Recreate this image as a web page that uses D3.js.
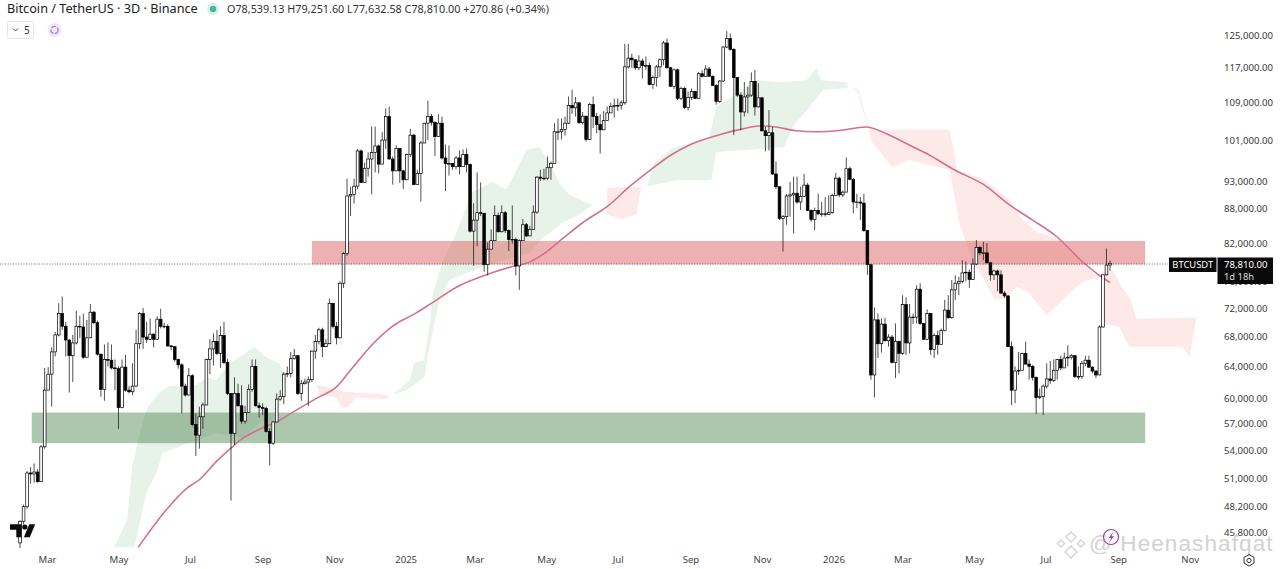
<!DOCTYPE html>
<html>
<head>
<meta charset="utf-8">
<script src="https://cdn.jsdelivr.net/npm/d3@7/dist/d3.min.js"></script>
<style>
html,body{margin:0;padding:0;background:#fff;overflow:hidden}
svg{display:block}
text{font-family:"Noto Sans","Open Sans",sans-serif}
</style>
</head>
<body>
<svg id="c" width="1280" height="569"></svg>
<script>
// ---------- values (thousand USDT) ----------
const firstOpen = 44.8;
const closes = [
46.8,48.2,51.6,51.5,51.7,50.7,54.4,61,63,65.9,68.2,71.2,69.4,67.5,65.4,67.1,69.4,69.3,65.2,67.8,
71.4,69.9,65.6,61.1,64.9,64.8,63.8,63.7,58.9,63.9,61,60.8,61.5,67,71.2,67.9,67.6,68.3,67.6,70.4,
69.4,69.4,66.7,66.6,64.9,64.2,61.5,60.4,62.8,56.9,55.7,57.8,59.2,64.9,66.3,67.3,65.7,68.1,64.5,60.6,
55.9,60.6,59.1,57.3,58.3,61.1,64,59.1,58.9,58.8,56.1,54.8,57.2,59.9,60.2,63,63.1,65,65.4,60.6,
61.8,62,62.3,66,67.3,68.9,66.6,67,72.7,69.4,67.8,75.7,
80.4,90.3,90.6,92.1,98.9,92.8,95.5,97.3,98.6,99.9,96.3,101.1,106,97.3,95,99.4,95,93.3,98.2,102.1,
92.4,94.5,100.5,104.6,106,104.8,101.8,104.6,97.5,96.4,96.4,95.8,97.5,95.8,98.2,96.2,84.1,86,87.3,87.2,
78.6,81.1,82.5,86.8,84,87.3,84.2,82.7,82.7,78.4,82.5,85.2,83.3,84.4,87.4,93.8,93.6,93.6,95.6,96.4,
102.8,102.8,103.3,104.6,108.4,107.9,109,104.7,106.1,101.2,108.6,106,104.3,103.2,105.2,106.8,108.2,108.4,108.4,109,117.2,
119.3,118.9,117,118.6,117.5,117.5,113.1,114.7,117.2,118.9,123,117,112.7,116.5,110,112.2,108,110.2,111.5,110,
115.6,115,116.7,115,112.9,109.3,113.9,122,124.1,121.4,114.7,110.7,107,110.3,110.7,113.8,108.1,110.1,103,102,
102.6,94.4,92,86.3,86.6,90.3,90.5,90.8,89.2,90.2,92.3,87.7,86.1,87.7,87.1,87.1,87,87.3,90.4,93.6,
90.5,91,95.4,93.4,89.2,89.2,89,84.2,78.6,
62.9,70.3,67,69.7,67.4,67.9,64.5,67.3,65.7,72.5,67.1,70.7,70.7,74.8,69.8,67.6,71.2,66.2,68.1,66.9,
68.8,71.7,70.6,74.7,75.7,76,77.3,77.4,76.3,78.7,81.4,80.5,80.5,78.9,77,77.6,77,74.2,73.8,66.6,
61,63.4,63.5,65.7,64.3,64,62.6,60.1,60.2,61.5,62.4,62.2,63.5,64.9,63.8,65.1,65.2,65.4,62.7,62.7,
64.4,64.8,63.9,63.4,62.9,69.3,77,78.54,78.81];
const highs = [
46.9,48.4,51.8,52.2,52.6,52,54.6,63.8,63.9,66.5,68.6,72.7,73.7,70,67.6,68.2,71.6,70.9,71.2,70.3,
72.6,71.6,70.2,65.6,66.9,67.2,66.9,64.9,64,64.9,65.5,61.5,64.4,68.9,71.4,72,70,70.5,68.4,70.8,
71.9,69.9,69.7,66.8,66.6,65,64.4,61.8,63.8,63,58.2,59,59.5,65,67.6,68.4,68.9,69.4,70,65,
60.6,62.6,61.8,61.6,59.1,61.7,64.9,64.9,59.5,59.4,59,56.5,57.3,60.6,61,63.3,64,65.9,66.3,65.4,
62.3,62.4,62.7,66.1,68.2,69.2,69.2,67.6,73.4,72.7,70,76,
80.6,93.5,92,93.5,99.3,99.2,96.6,98.6,103.9,103.9,100.2,102.8,107.8,108.2,97.8,100,99.4,95.2,98.4,103.4,
102.4,95.2,100.9,104.6,109.5,106.6,105,106.5,106,100.2,100,96.5,97.9,99,99.2,99.4,96.4,89,94.7,92.8,
87,82.2,84.4,88.6,87.3,88.6,87.6,84.4,88.6,83,82.7,86.2,85.5,85,88.6,94,95.2,95.4,97.8,96.8,
104.6,105.6,105.6,106,110.4,111.9,110.3,109.2,107,106.1,109,110.4,106.8,106.5,107.2,108.2,109,109.9,109.9,109.5,122.8,
122.8,120.4,118.3,120,119.2,119.7,118.2,115.2,117.6,119.2,123.5,124.1,117.2,116.8,116.8,112.6,112.6,111.5,112.2,111.5,
116,116.4,117.6,117.2,115.2,113.2,114.1,122.2,126,125.4,121.7,114.8,111.3,113.7,112.6,115.9,116.5,113.4,110.3,103.8,
107.4,103.8,96.8,92,86.9,90.7,92.9,93.9,93.9,92,94.4,92.7,87.9,88.2,90.7,89.2,90.1,90.4,90.7,94.6,
93.9,91.3,97.6,95.8,93.6,90.7,90.1,90.7,84.2,
78.5,72.1,71.2,70.5,70.6,68.3,68.2,69.8,67.4,73.9,73.6,72.6,71.2,75.4,75.7,69.8,71.8,71.2,68.4,68.8,
69.1,73.2,73.9,76.2,76.9,76.7,79.3,79.1,77.8,79.6,82.6,81.6,82.3,82.1,78.9,77.8,77.8,77.7,74.5,73.8,
67.3,64,65.9,65.8,67.3,64.9,64.2,62.7,61.2,61.7,64.4,64.7,64.9,65,65.4,65.8,66.8,65.6,65.4,64,
64.7,65.4,65.4,64,63.5,69.5,77,81.2,79.25];
const lows = [
44.3,46.5,48,50.5,50.6,50.6,50.7,54.2,61,59,65.3,68,68.9,65.3,60.7,62,66.9,67.8,65,65.2,
67.8,69.7,65.4,60.2,59.7,64,63.6,61,56.4,58.8,60.8,60.6,60.4,61.4,66.3,66.3,67.1,67.5,66.5,67.5,
69.1,69.1,66.6,66.1,64.6,63.7,58.2,60.2,60.4,56.7,53.4,54.2,56.4,59.2,63,64.1,65.5,63.8,64.3,60.4,
48.8,54.6,59,57,57,58.3,60.8,59,57.7,58,56,52.4,54.6,57.3,59.7,59.3,62.6,62.6,64.9,60.4,
59.7,61.7,59.1,62,65,66.9,65.2,66.5,66.9,69.1,66.9,67.7,
75,80,86.7,88.9,91.5,92.7,92.8,93.9,90.6,94.7,94.5,96.4,99.3,97.2,92.4,95,92.7,91.6,93.3,97.7,
92.3,92.4,89.3,100.5,101.1,104.1,97.9,101.8,97.2,91.2,94.1,95.2,95.3,94.3,95.8,94.7,83.9,78.4,81.6,86.7,
77.5,76.9,81.1,82.9,83.9,83.9,83.8,80.8,82,76.9,74.7,82.5,83.1,83.3,84.4,87.1,93.1,93.2,93.3,93.3,
96.4,101.1,101.2,102,104.4,106.6,106,104.5,104.3,100.8,101.1,103.6,102.5,98.4,103.2,105.2,106.8,105.8,107.2,107.5,108.6,
116.8,117,116.5,116.4,114.5,116.5,112.9,112.1,112.6,114.8,117.6,116.8,112.6,112.1,109.6,109.6,107.6,107.3,109.6,109.8,
111.1,114.7,114.8,114.8,112.8,108.6,109,113.7,121.7,121.1,102.1,110.3,103.1,106,106.7,110.3,106.2,108,102.9,98.8,
99,94.2,91.6,86,80.7,85.2,86.6,83.7,88.9,87.8,90.1,87.6,85.7,84.3,86.9,86.6,86.6,86.9,87.1,90.4,
90.1,90.1,91,93.2,87.2,88.1,86,84,77,
62.3,60.1,65.1,65.8,67.3,66.6,64.4,62.5,63.1,65.5,65.5,65.7,69.7,69.8,69.6,67.5,67.5,65.5,65.1,65.5,
67.7,68.7,70.5,70.5,73.2,73.9,75.7,76,75,76.2,78.5,80.1,79.3,78.8,76.1,76.2,74.5,74.2,73.5,66.6,
59.2,59.4,62.9,63.5,64.2,62.3,62.2,58.1,59.9,58,61.2,61.8,62,62.3,63.5,64,64,64.9,62.5,62.3,
62.4,64,63.8,63.1,62.5,62.9,69.2,76.9,77.63];

const lastBarDate = "2026-08-25";
const priceTicks = [125,117,109,101,93,88,82,76,72,68,64,60,57,54,51,48.2,45.8];
const monthDates = ["2024-03-01","2024-05-01","2024-07-01","2024-09-01","2024-11-01","2025-01-01","2025-03-01","2025-05-01","2025-07-01","2025-09-01","2025-11-01","2026-01-01","2026-03-01","2026-05-01","2026-07-01","2026-09-01","2026-11-01"];
const monthLabels = ["Mar","May","Jul","Sep","Nov","2025","Mar","May","Jul","Sep","Nov","2026","Mar","May","Jul","Sep","Nov"];

// moving average: bar number / price
const maBars = [33.6,41.6,47.3,51,55.8,59.5,63.2,68.9,72.9,79.4,84.3,90,94.5,100.2,105.9,112.7,117.3,124.1,132.6,140,144.9,148.6,154.2,159.9,167.6,173.3,179,184.7,190.4,198,205.5,210.3,215,220.8,226.5,232.2,240.7,246.4,252.9,258.6,265.7,274.3,281.4,288,294.8,302.1,307.5,310];
const maVals = [44.4,47.9,50,50.9,52.8,54.1,55.3,56.5,57.2,58.8,60,61.4,63.8,66.9,69.4,71.3,72.8,75.1,77,78.3,79,80.2,82.8,85.5,88.7,92,95,97.9,100.1,102,103.4,104,103.8,103,102.8,103,103.8,102.4,100.1,98.1,95.2,92.3,88.7,86,83.2,79.1,76.7,75.8];

// cloud outlines: bar number / price
const greenABars = [26.8,30.5,31.9,34.8,36.2,39.6,42.5,50.1,53,55.8,59.5,62.4,66.6,70.1,73.8,75.7,73.2,73.2,68.9,63.2,55.8,47.3,40.5,38.8,35.9,33.1,32.5];
const greenAVals = [44.4,47,52.3,57.1,58.9,60.7,61.5,61.6,62.6,62.2,64.4,65.2,66.6,65.2,64.4,62.2,58.1,57.3,57.3,55.4,55.9,54.7,53.7,51.6,49.6,45.2,44.4];
const greenBBars = [105.9,110.7,112.1,114.9,116.7,117.3,120.1,123.5,125.8,128.6,134.3,138.3,141.2,144,147.7,150.5,153.4,156.2,162.8,159.9,154.2,148.6,144.9,135.5,129.8,122.1,119.3,118.4,115.9,115,109.9];
const greenBVals = [60.4,62.2,64.4,64.8,70.3,73.9,79,82.9,86.5,91,92.9,91.5,95.2,99.1,99.7,96.7,92.7,90.5,88.7,87.3,85.5,82.9,80.5,79,77.9,76.2,73.2,71.2,65.2,62.6,61];
const greenCBars = [178.4,180.4,185.5,190.4,196,198,209.4,216.8,223.6,226.5,227.9,235.3,235.3,228.2,224.5,219.7,217.4,206.6,198,196.6,186.7];
const greenCVals = [92.1,96.5,99.5,100.5,101.7,108,114.1,113.6,114.1,116.9,114.1,113.6,112.3,111.8,108,103.8,99.7,99.1,98.7,93.2,93.2];
const redABars = [84.4,92.2,105,104.2,95.6,93.1,91.4,90,85.1];
const redAVals = [61.7,60.8,60.4,59.9,60.1,58.9,58.9,60.1,60.4];
const redBBars = [167,176.7,175.3,171,166.8];
const redBVals = [91.8,92,87,86.2,87];
const redCBars = [236.7,238.4,241.6,264.4,266.6,274.3,281.4,285.1,289.1,295.6,302.7,305.6,310.7,313.2,316,317.5,334.6,332.6,330.6,315.5,312.6,308.4,308.4,307,302.2,298.5,294.7,291.9,287,283.4,280.5,277.1,273.7,271.4,267.2,264.4,258.7,253,248.1,242.4,241,238.1];
const redCVals = [112.3,112.1,103.2,103.2,95.2,93.2,89.6,86.1,84,82.7,78.6,77,77.8,75.2,73.2,70.5,70.6,65.2,66.6,66.6,69.3,69.8,75.8,76.7,75.9,74.2,72.2,71,74.2,75.2,73.3,73.3,76.7,78.6,85.2,95.2,96.1,97.1,95.7,100.5,104.2,111.5];

// zones
const redZone = {from:"2024-10-13", to:"2026-09-24", top:82.45, bottom:78.65};
const greenZone = {from:"2024-02-17", to:"2026-09-24", top:58.3, bottom:54.8};

const lastPrice = 78.7;

// ---------- scales ----------
const parse = s => new Date(s + "T00:00:00Z");
const DAY = 864e5;
const x = d3.scaleUtc().domain([parse("2024-03-01"), parse("2026-09-01")]).range([47, 1118.2]);
const y = d3.scaleLog().domain([45.8, 125]).range([532, 35]);
const lastT = parse(lastBarDate).getTime();
const barX = b => x(new Date(lastT + (b - (closes.length - 1)) * 3 * DAY));

const svg = d3.select("#c");
svg.append("defs").append("clipPath").attr("id","plot").append("rect")
  .attr("x",0).attr("y",0).attr("width",1218).attr("height",548);
const plot = svg.append("g").attr("clip-path","url(#plot)");

// ---------- clouds ----------
const outline = d3.line().x(d => barX(d[0])).y(d => y(d[1])).curve(d3.curveLinear);
[[greenABars,greenAVals,"#e7f2e9"],[greenBBars,greenBVals,"#e7f2e9"],[greenCBars,greenCVals,"#e7f2e9"],
 [redABars,redAVals,"#fdeae8"],[redBBars,redBVals,"#fdeae8"],[redCBars,redCVals,"#fdeae8"]]
 .forEach(([b,v,c]) => {
   plot.append("path").attr("d", outline(b.map((d,i)=>[d,v[i]])) + "Z").attr("fill",c);
 });

// ---------- zones ----------
[[redZone,"rgb(220,100,100)",0.5],[greenZone,"rgb(76,130,78)",0.46]].forEach(([z,c,o]) => {
  plot.append("rect")
    .attr("x",x(parse(z.from))).attr("width",x(parse(z.to))-x(parse(z.from)))
    .attr("y",y(z.top)).attr("height",y(z.bottom)-y(z.top))
    .attr("fill",c).attr("fill-opacity",o);
});

// ---------- last price line ----------
svg.append("line").attr("x1",0).attr("x2",1168).attr("y1",y(lastPrice)).attr("y2",y(lastPrice))
  .attr("stroke","#444").attr("stroke-width",0.8).attr("stroke-dasharray","1 1.6");

// ---------- moving average ----------
plot.append("path")
  .attr("d", d3.line().x(d=>barX(d[0])).y(d=>y(d[1])).curve(d3.curveMonotoneX)(maBars.map((b,i)=>[b,maVals[i]])))
  .attr("fill","none").attr("stroke","#d4708f").attr("stroke-width",1.6);

// ---------- candles ----------
const bars = closes.map((c,i)=>({i,o:i?closes[i-1]:firstOpen,c,h:highs[i],l:lows[i]}));
const cg = plot.append("g").selectAll("g").data(bars).join("g");
cg.append("line")
  .attr("x1",d=>barX(d.i)).attr("x2",d=>barX(d.i))
  .attr("y1",d=>y(Math.max(d.h,d.o,d.c))).attr("y2",d=>y(Math.min(d.l,d.o,d.c)))
  .attr("stroke","#222").attr("stroke-width",0.8);
cg.append("rect")
  .attr("x",d=>barX(d.i)-1.35).attr("width",2.7)
  .attr("y",d=>y(Math.max(d.o,d.c)))
  .attr("height",d=>Math.max(0.6,Math.abs(y(d.o)-y(d.c))))
  .attr("fill",d=>d.c>=d.o?"#fff":"#000")
  .attr("stroke","#000").attr("stroke-width",0.7);

// ---------- axes ----------
const yAxis = d3.axisRight(y).tickValues(priceTicks).tickSize(0).tickPadding(0)
  .tickFormat(v => d3.format(",.2f")(v*1000));
const ya = svg.append("g").attr("transform","translate(1224,0)").call(yAxis);
ya.select(".domain").remove();
ya.selectAll("text").attr("font-size",9.6).attr("fill","#3a3a3a").style("font-family",'"Noto Sans",sans-serif');

const xAxis = d3.axisBottom(x).tickValues(monthDates.map(parse)).tickSize(0).tickPadding(0)
  .tickFormat((d,i)=>monthLabels[i]);
const xa = svg.append("g").attr("transform","translate(0,556)").call(xAxis);
xa.select(".domain").remove();
xa.selectAll("text").attr("font-size",9.6).attr("fill","#444").style("font-family",'"Noto Sans",sans-serif');

// ---------- price labels ----------
svg.append("rect").attr("x",1169).attr("y",257.5).attr("width",47.5).attr("height",14.5).attr("fill","#0a0a0a");
svg.append("text").attr("x",1192.7).attr("y",268.3).attr("text-anchor","middle").attr("fill","#fff").attr("font-size",9.4).text("BTCUSDT");
svg.append("rect").attr("x",1217.5).attr("y",257.5).attr("width",55.5).attr("height",26.5).attr("fill","#0a0a0a");
svg.append("text").attr("x",1224).attr("y",268.3).attr("fill","#fff").attr("font-size",9.6).text("78,810.00");
svg.append("text").attr("x",1224).attr("y",280.3).attr("fill","#ddd").attr("font-size",9.4).text("1d 18h");

// ---------- header ----------
svg.append("text").attr("x",7).attr("y",13).attr("font-size",12.7).attr("fill","#222").text("Bitcoin / TetherUS · 3D · Binance");
svg.append("circle").attr("cx",213).attr("cy",9).attr("r",6).attr("fill","#d6efe9");
svg.append("circle").attr("cx",213).attr("cy",9).attr("r",3.2).attr("fill","#4fb3a0");
svg.append("text").attr("x",227).attr("y",12.5).attr("font-size",10.8).attr("fill","#333")
  .text("O78,539.13 H79,251.60 L77,632.58 C78,810.00 +270.86 (+0.34%)");
svg.append("rect").attr("x",7.5).attr("y",21.5).attr("width",26).attr("height",17).attr("rx",2)
  .attr("fill","#fff").attr("stroke","#e4e4e4");
svg.append("path").attr("d","M13 28.5l2.5 2.5 2.5-2.5").attr("fill","none").attr("stroke","#444").attr("stroke-width",1);
svg.append("text").attr("x",24).attr("y",33.5).attr("font-size",10).attr("fill","#333").text("5");
svg.append("circle").attr("cx",54.5).attr("cy",30).attr("r",7).attr("fill","#f1e6fa");
svg.append("circle").attr("cx",54.5).attr("cy",30).attr("r",3.6).attr("fill","none").attr("stroke","#a57fd0").attr("stroke-width",1.2).attr("stroke-dasharray","5 1.5");

// ---------- TradingView mark ----------
const logo = svg.append("g").attr("fill","#0b0b0b");
logo.append("path").attr("d","M10 524.3h11.5v13h-5.2v-7.6H10z");
logo.append("circle").attr("cx",24.8).attr("cy",527).attr("r",2.6);
logo.append("path").attr("d","M29.3 524.3h5.9l-5.4 13h-5.9z");

// ---------- watermark ----------
const wm = svg.append("g").attr("fill","none").attr("stroke","#d8d8d8").attr("stroke-width",1.6);
wm.append("path").attr("d","M1071 532l5 5-5 5-5-5zM1061 540l3.5 3.5-3.5 3.5-3.5-3.5zM1081 540l3.5 3.5-3.5 3.5-3.5-3.5zM1071 546l6 6-6 6-6-6z");
svg.append("text").attr("x",1089).attr("y",551).attr("font-size",22.5).attr("fill","#d2d2d2")
  .style("font-family",'"Liberation Sans",sans-serif').attr("letter-spacing",1.1).text("@ Heenashafqat");
svg.append("circle").attr("cx",1111).attr("cy",537).attr("r",7.5).attr("fill","#fff").attr("fill-opacity",0.6).attr("stroke","#9a3fb0").attr("stroke-width",1.2);
svg.append("path").attr("d","M1113.5 531.5l-5 6.5h2.5l-2 4.5 5-6.2h-2.6z").attr("fill","#9a3fb0");

// ---------- scale settings icon ----------
svg.append("path").attr("d","M1249 554.5l5 2.9v5.7l-5 2.9-5-2.9v-5.7z").attr("fill","none").attr("stroke","#333").attr("stroke-width",1);
svg.append("circle").attr("cx",1249).attr("cy",560.5).attr("r",2.1).attr("fill","none").attr("stroke","#333").attr("stroke-width",1);
</script>
</body>
</html>
